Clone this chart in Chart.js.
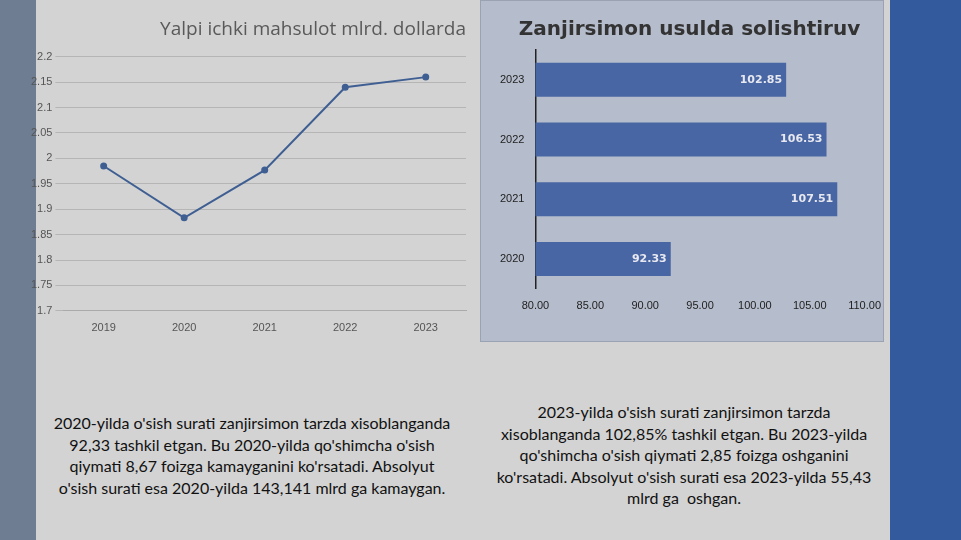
<!DOCTYPE html>
<html><head><meta charset="utf-8">
<script src="https://cdn.jsdelivr.net/npm/chart.js@4"></script>
<style>
body{margin:0;width:961px;height:540px;background:#d3d3d3;position:relative;overflow:hidden;font-family:Lato,"Open Sans",sans-serif}
#lb{position:absolute;left:0;top:0;width:36px;height:540px;background:#6f7d92}
#rb{position:absolute;left:890px;top:0;width:71px;height:540px;background:#345a9e}
#panel{position:absolute;left:480px;top:0;width:404px;height:342px;background:#b5bccb;border:1px solid #9aa3b3;box-sizing:border-box}
#c1{position:absolute;left:28px;top:0}
#c2{position:absolute;left:480px;top:0}
.txt{position:absolute;text-align:center;font-size:16px;line-height:21.5px;color:#111;white-space:nowrap}
</style></head><body>
<div id="lb"></div><div id="rb"></div><div id="panel"></div>
<canvas id="c1" width="450" height="340"></canvas>
<canvas id="c2" width="404" height="342"></canvas>
<div class="txt" style="left:30px;top:412px;width:444px">2020-yilda o'sish surati zanjirsimon tarzda xisoblanganda<br>92,33 tashkil etgan. Bu 2020-yilda qo'shimcha o'sish<br>qiymati 8,67 foizga kamayganini ko'rsatadi. Absolyut<br>o'sish surati esa 2020-yilda 143,141 mlrd ga kamaygan.</div>
<div class="txt" style="left:464px;top:401px;width:440px">2023-yilda o'sish surati zanjirsimon tarzda<br>xisoblanganda 102,85% tashkil etgan. Bu 2023-yilda<br>qo'shimcha o'sish qiymati 2,85 foizga oshganini<br>ko'rsatadi. Absolyut o'sish surati esa 2023-yilda 55,43<br>mlrd ga&nbsp; oshgan.</div>
<script>
const years = ['2019','2020','2021','2022','2023'];
const gdp = [1.985, 1.883, 1.977, 2.140, 2.160];
const barYears = ['2023','2022','2021','2020'];
const chain = [102.85, 106.53, 107.51, 92.33];

new Chart(document.getElementById('c1'), {
  type:'line',
  data:{labels:years, datasets:[{data:gdp, borderColor:'#3f5f93', backgroundColor:'#3f5f93', borderWidth:2, pointRadius:2.5, tension:0}]},
  options:{responsive:false, animation:false,
    layout:{padding:{left:0,right:12,top:6,bottom:2}},
    plugins:{legend:{display:false},
      title:{display:true, text:'Yalpi ichki mahsulot mlrd. dollarda', color:'#595959', font:{size:19,family:'Open Sans',weight:'normal'}, align:'end', padding:{top:12,bottom:16}}},
    scales:{
      x:{offset:true, grid:{display:false}, border:{color:'#aaa'}, ticks:{color:'#555',font:{size:11}}},
      y:{min:1.7, max:2.2, grid:{color:'#b5b5b5'}, border:{display:false}, ticks:{stepSize:0.05, color:'#555', font:{size:11}, callback:v=>String(+v.toFixed(2))}}
    }}
});

new Chart(document.getElementById('c2'), {
  type:'bar',
  data:{labels:barYears, datasets:[{data:chain, backgroundColor:'#4866a3', barPercentage:0.95, categoryPercentage:0.6}]},
  options:{responsive:false, animation:false, indexAxis:'y',
    layout:{padding:{left:17,right:2,top:4,bottom:26}},
    plugins:{legend:{display:false},
      title:{display:true, text:'Zanjirsimon usulda solishtiruv', color:'#333', font:{size:20,weight:'bold',family:'DejaVu Sans'}, padding:{top:14,bottom:8}}},
    scales:{
      x:{min:80, max:110, grid:{display:false}, border:{display:false}, ticks:{stepSize:5, color:'#222', font:{size:11}, callback:v=>v.toFixed(2)}},
      y:{grid:{display:false}, border:{color:'#222',width:1.5}, ticks:{color:'#222', font:{size:11}}}
    }},
  plugins:[{id:'vals', afterDatasetsDraw(ch){
    const c=ch.ctx; c.save(); c.fillStyle='#e8e8f0'; c.font='bold 11px DejaVu Sans'; c.textAlign='right'; c.textBaseline='middle';
    ch.getDatasetMeta(0).data.forEach((b,i)=>c.fillText(chain[i].toFixed(2), b.x-4, b.y));
    c.restore();}}]
});
</script>
</body></html>
